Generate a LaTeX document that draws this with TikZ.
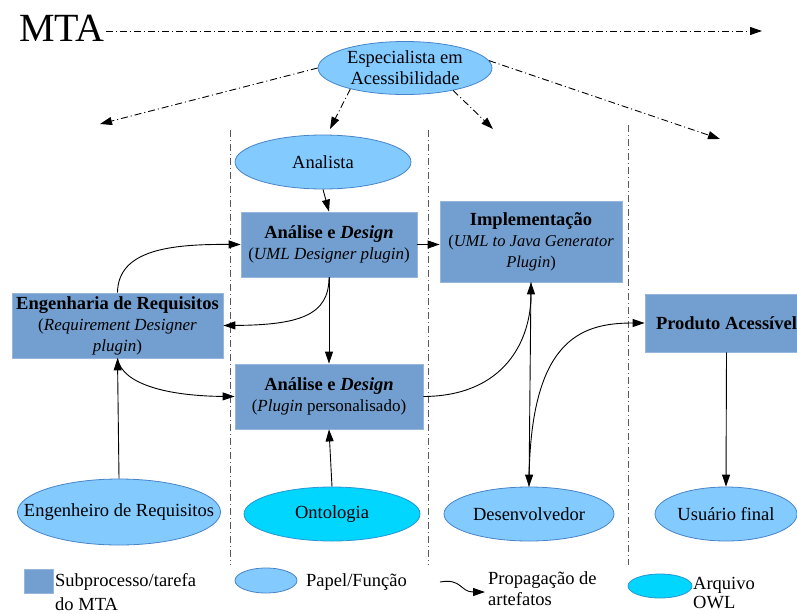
\documentclass[tikz,border=0pt]{standalone}
\usepackage{fontspec}
\setmainfont{Liberation Serif}
\usetikzlibrary{arrows.meta,shapes.geometric}
\definecolor{boxfill}{RGB}{114,159,207}
\definecolor{boxline}{RGB}{150,182,222}
\definecolor{rolefill}{RGB}{131,202,255}
\definecolor{roleline}{RGB}{72,132,200}
\definecolor{owlfill}{RGB}{0,214,255}
\definecolor{owlline}{RGB}{40,150,210}
\begin{document}
\begin{tikzpicture}[x=1pt,y=-1pt,
  every node/.style={font=\fontsize{18.5}{21}\selectfont},
  taskbox/.style={rectangle, fill=boxfill, draw=boxline, line width=0.8pt, align=center, inner sep=0pt},
  role/.style={ellipse, fill=rolefill, draw=roleline, line width=0.8pt, inner sep=0pt},
  owl/.style={ellipse, fill=owlfill, draw=owlline, line width=0.8pt, inner sep=0pt},
  flow/.style={line width=0.9pt, -{Triangle[length=12pt,width=8pt]}},
  dashflow/.style={line width=0.9pt, dash pattern=on 7pt off 3pt on 1pt off 3pt, -{Triangle[length=12pt,width=8pt]}},
  lane/.style={line width=0.7pt, black!65, dash pattern=on 7pt off 3pt on 1pt off 3pt},
  legend/.style={anchor=west, align=left, inner sep=0pt}
]
\useasboundingbox (0,0) rectangle (797,613);

% swim lanes
\draw[lane] (230,130) -- (230,565);
\draw[lane] (428,130) -- (428,565);
\draw[lane] (628,125) -- (628,565);

% title
\node[font=\fontsize{40}{44}\selectfont, inner sep=1pt] (mta) at (62,28) {MTA};
\coordinate (mtaend) at (762,31);
\draw[dashflow] ([yshift=-3pt]mta.east) -- (mtaend);

% specialist
\node[role, minimum width=174pt, minimum height=53pt,
      label={[align=center]center:Especialista em\\Acessibilidade}] (esp) at (405,68) {};
\coordinate (t1) at (100,124);
\coordinate (t2) at (330,129);
\coordinate (t3) at (493,129);
\coordinate (t4) at (720,139);
\draw[dashflow] (esp.west) -- (t1);
\draw[dashflow] (esp.201) -- (t2);
\draw[dashflow] (esp.335) -- (t3);
\draw[dashflow] (esp.5) -- (t4);

% roles top
\node[role, minimum width=176pt, minimum height=54pt, label=center:Analista] (ana) at (323,162) {};

% tasks
\node[taskbox, minimum width=176pt, minimum height=65pt] (ad1) at (329,244.5)
  {\textbf{Análise e \textit{Design}}\\{\fontsize{17}{21}\selectfont(\textit{UML Designer plugin})}};
\node[taskbox, minimum width=182pt, minimum height=81pt] (impl) at (531,241.5)
  {\textbf{Implementação}\\{\fontsize{16.5}{21}\selectfont(\textit{UML to Java Generator}}\\{\fontsize{16.5}{21}\selectfont\textit{Plugin})}};
\node[taskbox, minimum width=211pt, minimum height=65pt] (er) at (117.5,325.5)
  {\textbf{Engenharia de Requisitos}\\{\fontsize{17}{21}\selectfont(\textit{Requirement Designer}}\\{\fontsize{17}{21}\selectfont\textit{plugin})}};
\node[taskbox, minimum width=188pt, minimum height=65pt] (ad2) at (329,396.5)
  {\textbf{Análise e \textit{Design}}\\{\fontsize{17}{21}\selectfont(\textit{Plugin} personalisado)}};
\node[taskbox, minimum width=163pt, minimum height=58pt] (prod) at (726.5,323)
  {\textbf{Produto Acessível}};

% roles bottom
\node[role, minimum width=203pt, minimum height=66pt, label=center:{Engenheiro de Requisitos}] (eng) at (119,512) {};
\node[owl, minimum width=176pt, minimum height=54pt, label=center:Ontologia] (onto) at (332,514) {};
\node[role, minimum width=170pt, minimum height=54pt, label=center:Desenvolvedor] (dev) at (529,514) {};
\node[role, minimum width=142pt, minimum height=54pt, label=center:{Usuário final}] (usr) at (726,514) {};

% connectors
\draw[flow] (ana.south) -- (ad1.north);
\draw[flow] (ad1.east) -- (impl.west |- ad1.east);
\draw[flow] (ad1.south) -- (ad2.north);
\draw[flow] (er.north) .. controls (118,250) and (170,244) .. (ad1.west);
\draw[flow] (ad1.south) .. controls (329,315) and (300,325) .. (er.east);
\draw[flow] (er.south) .. controls (122,385) and (170,396) .. (ad2.west);
\draw[flow] (eng.north) -- (er.south);
\draw[flow] (onto.north) -- (ad2.south);
\draw[flow] (ad2.east) .. controls (505,396) and (531,340) .. (impl.south);
\draw[flow] (impl.south) -- (dev.north);
\draw[flow] (dev.north) .. controls (529,340) and (580,323) .. (prod.west);
\draw[flow] (prod.south) -- (usr.north);

% legend
\node[taskbox, minimum width=29pt, minimum height=24pt] (lgbox) at (38.5,581) {};
\node[legend, font=\fontsize{18.5}{24}\selectfont] (lgboxt) at (55,592) {Subprocesso/tarefa\\do MTA};
\node[role, minimum width=62pt, minimum height=25pt] (lgrole) at (266,580.5) {};
\node[legend] (lgrolet) at (306,582) {Papel/Função};
\coordinate (lga) at (440,582);
\coordinate (lgb) at (485,592);
\draw[flow] (lga) .. controls (462,578) and (460,592) .. (lgb);
\node[legend] (lgflowt) at (488,588.5) {Propagação de\\artefatos};
\node[owl, minimum width=64pt, minimum height=24pt] (lgowl) at (660,586) {};
\node[legend, font=\fontsize{18.5}{19}\selectfont] (lgowlt) at (693,593.5) {Arquivo\\OWL};
\end{tikzpicture}
\end{document}
